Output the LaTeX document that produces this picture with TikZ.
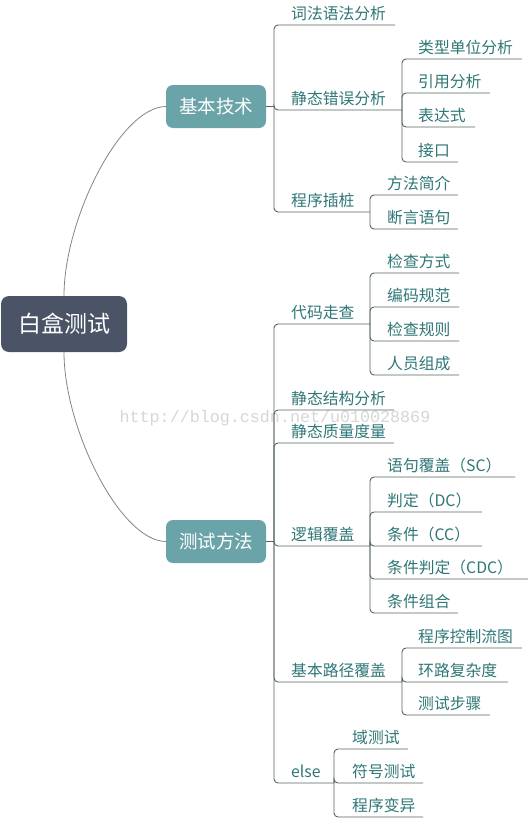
\documentclass[tikz,border=0pt]{standalone}
\usepackage{fontspec}
\setmainfont{Noto Sans CJK SC}
\newfontfamily\wmfont{Liberation Mono}
\definecolor{rootfill}{HTML}{4A5466}
\definecolor{boxfill}{HTML}{6AA4A9}
\definecolor{textcol}{HTML}{2F7676}
\definecolor{linecol}{HTML}{55655A}
\definecolor{curvecol}{HTML}{85857B}
\definecolor{wmcol}{HTML}{D6D6D6}
\tikzset{
  rootbox/.style={rectangle, rounded corners=8pt, fill=rootfill, text=white,
    minimum width=126pt, minimum height=56pt, inner sep=0pt,
    font=\fontsize{23}{26}\selectfont},
  mainbox/.style={rectangle, rounded corners=7pt, fill=boxfill, text=white,
    minimum width=100pt, minimum height=43pt, inner sep=0pt,
    font=\fontsize{18.5}{21}\selectfont},
  leaf/.style={anchor=south west, inner xsep=0pt, inner ysep=5.5pt, text depth=0pt,
    text=textcol, font=\fontsize{15.8}{18}\selectfont},
  conn/.style={draw=linecol, line width=0.9pt, rounded corners=4pt},
  curve/.style={draw=curvecol, line width=0.8pt},
}
\begin{document}
\begin{tikzpicture}[x=1pt,y=-1pt]
\useasboundingbox (0,0) rectangle (530,819);
\node[font=\wmfont\fontsize{16.7}{18}\selectfont, text=wmcol] (wm) at (275,418) {http://blog.csdn.net/u010028869};

% main nodes
\node[rootbox] (root) at (64,324) {白盒测试};
\node[mainbox] (b1) at (216,106.5) {基本技术};
\node[mainbox] (b2) at (216,541.5) {测试方法};

\draw[curve] (root.north) .. controls (64,220) and (120,107) .. (b1.west);
\draw[curve] (root.south) .. controls (64,428) and (120,541) .. (b2.west);

% ---------- tree 1 ----------
\draw[conn] (b1.east) -- (274,106.5) coordinate (j1);
\node[leaf] (a1) at (291,25) {词法语法分析};
\node[leaf] (a2) at (291,110) {静态错误分析};
\node[leaf] (a3) at (291,212) {程序插桩};
\coordinate (j11) at ([xshift=111pt]a2.south west);
\coordinate (j12) at ([xshift=79pt]a3.south west);
\draw[conn] (j1) |- (a1.south west) -- ++(104,0);
\draw[conn] (j1) |- (a2.south west) -- (j11);
\draw[conn] (j1) |- (a3.south west) -- (j12);

\node[leaf] (a21) at (418,59) {类型单位分析};
\node[leaf] (a22) at (418,93) {引用分析};
\node[leaf] (a23) at (418,127) {表达式};
\node[leaf] (a24) at (418,162) {接口};
\draw[conn] (j11) |- (a21.south west) -- ++(104,0);
\draw[conn] (j11) |- (a22.south west) -- ++(72,0);
\draw[conn] (j11) |- (a23.south west) -- ++(57,0);
\draw[conn] (j11) |- (a24.south west) -- ++(40,0);

\node[leaf] (a31) at (387,195) {方法简介};
\node[leaf] (a32) at (387,229) {断言语句};
\draw[conn] (j12) |- (a31.south west) -- ++(71,0);
\draw[conn] (j12) |- (a32.south west) -- ++(71,0);

% ---------- tree 2 ----------
\draw[conn] (b2.east) -- (274,541.5) coordinate (j2);
\node[leaf] (c1) at (291,324) {代码走查};
\node[leaf] (c2) at (291,410) {静态结构分析};
\node[leaf] (c3) at (291,443) {静态质量度量};
\node[leaf] (c4) at (291,546) {逻辑覆盖};
\node[leaf] (c5) at (291,682) {基本路径覆盖};
\node[leaf] (c6) at (291,783) {else};
\coordinate (j21) at ([xshift=79pt]c1.south west);
\coordinate (j22) at ([xshift=79pt]c4.south west);
\coordinate (j23) at ([xshift=111pt]c5.south west);
\coordinate (j24) at ([xshift=43pt]c6.south west);
\draw[conn] (j2) |- (c1.south west) -- (j21);
\draw[conn] (j2) |- (c2.south west) -- ++(103,0);
\draw[conn] (j2) |- (c3.south west) -- ++(103,0);
\draw[conn] (j2) |- (c4.south west) -- (j22);
\draw[conn] (j2) |- (c5.south west) -- (j23);
\draw[conn] (j2) |- (c6.south west) -- (j24);

\node[leaf] (c11) at (387,273) {检查方式};
\node[leaf] (c12) at (387,307) {编码规范};
\node[leaf] (c13) at (387,341) {检查规则};
\node[leaf] (c14) at (387,375) {人员组成};
\draw[conn] (j21) |- (c11.south west) -- ++(72,0);
\draw[conn] (j21) |- (c12.south west) -- ++(72,0);
\draw[conn] (j21) |- (c13.south west) -- ++(72,0);
\draw[conn] (j21) |- (c14.south west) -- ++(72,0);

\node[leaf] (c41) at (387,477) {语句覆盖（SC）};
\node[leaf] (c42) at (387,512) {判定（DC）};
\node[leaf] (c43) at (387,546) {条件（CC）};
\node[leaf] (c44) at (387,579) {条件判定（CDC）};
\node[leaf] (c45) at (387,613) {条件组合};
\draw[conn] (j22) |- (c41.south west) -- ++(128,0);
\draw[conn] (j22) |- (c42.south west) -- ++(95,0);
\draw[conn] (j22) |- (c43.south west) -- ++(95,0);
\draw[conn] (j22) |- (c44.south west) -- ++(141,0);
\draw[conn] (j22) |- (c45.south west) -- ++(71,0);

\node[leaf] (c51) at (418,648) {程序控制流图};
\node[leaf] (c52) at (418,682) {环路复杂度};
\node[leaf] (c53) at (418,715) {测试步骤};
\draw[conn] (j23) |- (c51.south west) -- ++(104,0);
\draw[conn] (j23) |- (c52.south west) -- ++(90,0);
\draw[conn] (j23) |- (c53.south west) -- ++(72,0);

\node[leaf] (c61) at (352,749) {域测试};
\node[leaf] (c62) at (352,783) {符号测试};
\node[leaf] (c63) at (352,817) {程序变异};
\draw[conn] (j24) |- (c61.south west) -- ++(56,0);
\draw[conn] (j24) |- (c62.south west) -- ++(71,0);
\draw[conn] (j24) |- (c63.south west) -- ++(71,0);
\end{tikzpicture}
\end{document}
